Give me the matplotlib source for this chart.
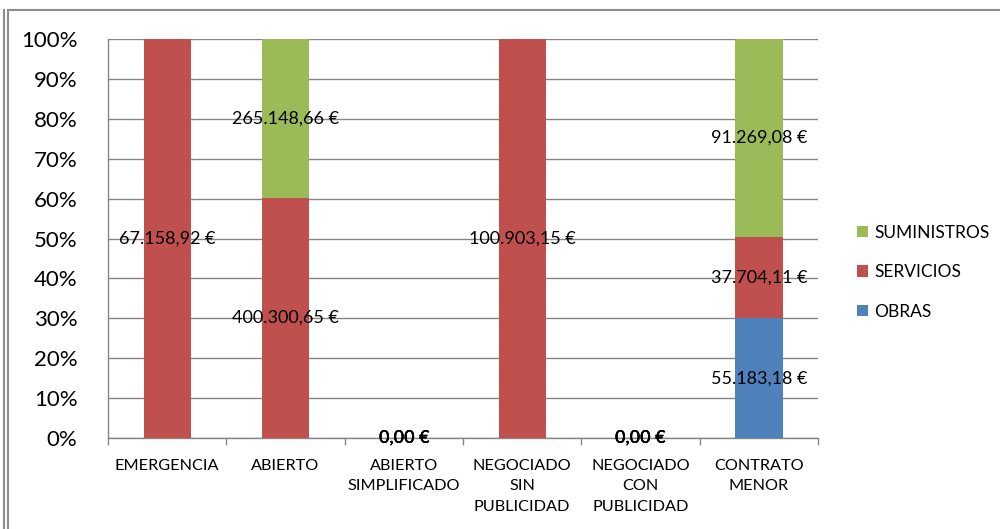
import matplotlib
matplotlib.use("Agg")
import matplotlib.pyplot as plt
from matplotlib.lines import Line2D
import numpy as np

plt.rcParams['font.family'] = ['Lato', 'DejaVu Sans']

categories = ["EMERGENCIA", "ABIERTO", "ABIERTO\nSIMPLIFICADO", "NEGOCIADO\nSIN\nPUBLICIDAD",
              "NEGOCIADO\nCON\nPUBLICIDAD", "CONTRATO\nMENOR"]
obras = [0.0, 0.0, 0.0, 0.0, 0.0, 55183.18]
servicios = [67158.92, 400300.65, 0.0, 100903.15, 0.0, 37704.11]
suministros = [0.0, 265148.66, 0.0, 0.0, 0.0, 91269.08]
series_names = ["OBRAS", "SERVICIOS", "SUMINISTROS"]
series_colors = ["#4F81BD", "#C0504D", "#9BBB59"]
yticks = [0, 10, 20, 30, 40, 50, 60, 70, 80, 90, 100]
ytick_labels = [f"{v}%" for v in yticks]


def fmt_eur(v):
    s = f"{v:,.2f}"
    s = s.replace(",", "X").replace(".", ",").replace("X", ".")
    return s + " €"


fig = plt.figure(figsize=(10, 5.29), dpi=100)
ax = fig.add_axes([0.108, 0.172, 0.710, 0.754])

data = np.array([obras, servicios, suministros])
totals = data.sum(axis=0)
x = np.arange(len(categories))
bottom = np.zeros(len(categories))
handles = []
for vals, name, col in zip(data, series_names, series_colors):
    pct = np.where(totals > 0, vals / np.where(totals > 0, totals, 1) * 100, 0)
    b = ax.bar(x, pct, width=0.4, bottom=bottom, color=col, label=name, zorder=3)
    handles.append(b)
    for i in range(len(categories)):
        if totals[i] == 0:
            ax.text(x[i], 0, fmt_eur(vals[i]), ha="center", va="center",
                    fontsize=13, color="black", zorder=5, fontweight="semibold")
        elif vals[i] > 0:
            ax.text(x[i], bottom[i] + pct[i] / 2, fmt_eur(vals[i]), ha="center",
                    va="center", fontsize=13, color="black", zorder=5)
    bottom = bottom + pct

ax.set_xlim(-0.5, len(categories) - 0.5)
ax.set_ylim(0, 100)
ax.set_yticks(yticks)
ax.set_yticklabels(ytick_labels, fontsize=16)
ax.yaxis.grid(True, color="#868686", linewidth=1.0, zorder=0)
ax.set_axisbelow(True)
ax.tick_params(axis="y", length=0, pad=22)

ax.set_xticks(x)
ax.set_xticklabels(categories, fontsize=11.7, linespacing=1.58)
ax.tick_params(axis="x", length=0, pad=15)
ax.set_xticks(np.arange(-0.5, len(categories), 1), minor=True)
ax.tick_params(axis="x", which="minor", length=5, color="#868686", width=1.0)

for s in ["top", "right"]:
    ax.spines[s].set_visible(False)
for s in ["left", "bottom"]:
    ax.spines[s].set_color("#868686")
    ax.spines[s].set_linewidth(1.0)

leg = ax.legend(handles=handles[::-1], labels=series_names[::-1], loc="center left",
                bbox_to_anchor=(1.045, 0.416), frameon=False, fontsize=12.5,
                handlelength=0.65, handleheight=0.65, handletextpad=0.35,
                labelspacing=1.35, borderaxespad=0)

# Outer frame
def fl(x0, y0, x1, y1):
    fig.add_artist(Line2D([x0 / 1000, x1 / 1000], [1 - y0 / 529, 1 - y1 / 529],
                          color="#8c8c8c", linewidth=1.5))

fl(3.5, 9.5, 3.5, 529)
fl(7.5, 9.5, 7.5, 529)
fl(7.5, 9.5, 1000, 9.5)

fig.savefig("out.png", dpi=100)
